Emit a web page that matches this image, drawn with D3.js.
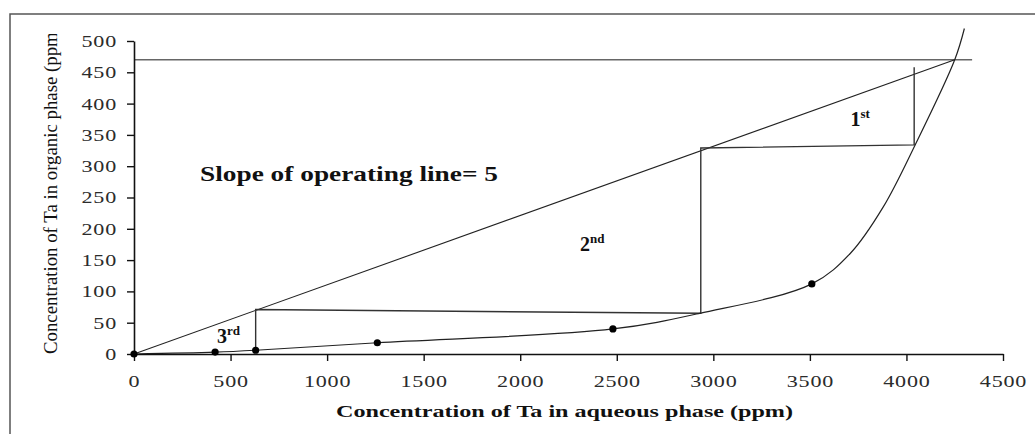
<!DOCTYPE html>
<html>
<head>
<meta charset="utf-8">
<script src="https://cdn.jsdelivr.net/npm/d3@7"></script>
<style>
    body { margin: 0; background: #fff; }
    svg { display: block; font-family: "Liberation Serif", "Times New Roman", serif; }
</style>
</head>
<body>
<svg id="svg"></svg>
<script>
// McCabe-Thiele style plot: Ta extraction

// equilibrium curve
const eqX = [0, 420, 630, 1260, 2480, 2930, 3510, 3710, 3880, 4045, 4250, 4300];
const eqY = [0, 3, 6, 18, 40, 65, 112, 161, 235, 334, 470, 520];

// measured points shown with markers
const ptX = [0, 420, 630, 1260, 2480, 3510];
const ptY = [0, 3, 6, 18, 40, 112];

// operating line
const opX = [0, 4250];
const opY = [0, 470];

// horizontal feed line
const feedX = [0, 4340];
const feedY = [470, 470];

// stage steps
const stepX = [4040, 4040, 2935, 2935, 630, 630];
const stepY = [458, 334, 329, 65, 71, 6];

// stage labels
const stages = [
    { x: 3710, y: 365, num: "1", sup: "st" },
    { x: 2310, y: 165, num: "2", sup: "nd" },
    { x: 430, y: 18, num: "3", sup: "rd" },
];

const xTicks = [0, 500, 1000, 1500, 2000, 2500, 3000, 3500, 4000, 4500];
const yTicks = [0, 50, 100, 150, 200, 250, 300, 350, 400, 450, 500];

const width = 1035;
const height = 434;

const svg = d3.select("#svg").attr("width", width).attr("height", height);

const x = d3.scaleLinear().domain([0, 4500]).range([134, 1003]);
const y = d3.scaleLinear().domain([0, 500]).range([354, 41]);

// outer frame (runs off the right and bottom edges)
svg.append("rect")
    .attr("x", 10)
    .attr("y", 14)
    .attr("width", 1100)
    .attr("height", 500)
    .attr("fill", "#fff")
    .attr("stroke", "#555")
    .attr("stroke-width", 1.5);

const line = d3.line().x((d) => x(d[0])).y((d) => y(d[1]));

// feed line
svg.append("path")
    .attr("d", line(d3.zip(feedX, feedY)))
    .attr("fill", "none")
    .attr("stroke", "#666")
    .attr("stroke-width", 1.5);

// operating line
svg.append("path")
    .attr("d", line(d3.zip(opX, opY)))
    .attr("fill", "none")
    .attr("stroke", "#222")
    .attr("stroke-width", 1.1);

// steps
svg.append("path")
    .attr("d", line(d3.zip(stepX, stepY)))
    .attr("fill", "none")
    .attr("stroke", "#333")
    .attr("stroke-width", 1.4);

// equilibrium curve
const curveLine = d3.line()
    .x((d) => x(d[0]))
    .y((d) => y(d[1]))
    .curve(d3.curveCatmullRom.alpha(0.5));

svg.append("path")
    .attr("d", curveLine(d3.zip(eqX, eqY)))
    .attr("fill", "none")
    .attr("stroke", "#222")
    .attr("stroke-width", 1.2);

// axes
const xAxis = d3.axisBottom(x)
    .tickValues(xTicks)
    .tickFormat(d3.format("d"))
    .tickSize(7)
    .tickSizeOuter(0)
    .tickPadding(14);
const yAxis = d3.axisLeft(y)
    .tickValues(yTicks)
    .tickFormat(d3.format("d"))
    .tickSize(7)
    .tickSizeOuter(0)
    .tickPadding(10);

const gx = svg.append("g")
    .attr("transform", `translate(0,${y(0)})`)
    .call(xAxis);

const gy = svg.append("g")
    .attr("transform", `translate(${x(0)},0)`)
    .call(yAxis);

// the original digits are wide, so stretch them sideways
const stretch = 1.3;

[gx, gy].forEach((g) => {
    g.select(".domain").attr("stroke", "#111").attr("stroke-width", 1.6);
    g.selectAll(".tick line").attr("stroke", "#111").attr("stroke-width", 1.4);
    g.selectAll(".tick text")
        .attr("fill", "#2b2b2b")
        .attr("transform", `scale(${stretch},1)`)
        .style("font-family", "'Liberation Serif', serif")
        .style("font-size", "17px")
        .style("letter-spacing", "0.6px");
});
gy.selectAll(".tick text").attr("x", -17 / stretch);

// markers
svg.append("g")
    .selectAll("circle")
    .data(d3.zip(ptX, ptY))
    .join("circle")
    .attr("cx", (d) => x(d[0]))
    .attr("cy", (d) => y(d[1]))
    .attr("r", 3.6)
    .attr("fill", "#000");

// texts
svg.append("text")
    .attr("x", 200)
    .attr("y", 181)
    .attr("textLength", 298)
    .attr("lengthAdjust", "spacingAndGlyphs")
    .style("font-size", "22px")
    .style("font-weight", "bold")
    .attr("fill", "#111")
    .text("Slope of operating line= 5");

const stageText = svg.append("g")
    .selectAll("text")
    .data(stages)
    .join("text")
    .attr("x", (d) => x(d.x))
    .attr("y", (d) => y(d.y))
    .style("font-size", "20px")
    .style("font-weight", "bold")
    .attr("fill", "#111");
stageText.append("tspan").text((d) => d.num);
stageText.append("tspan")
    .attr("dy", -8)
    .style("font-size", "13px")
    .text((d) => d.sup);

svg.append("text")
    .attr("x", 336)
    .attr("y", 417)
    .attr("textLength", 457)
    .attr("lengthAdjust", "spacingAndGlyphs")
    .style("font-size", "17px")
    .style("font-weight", "bold")
    .attr("fill", "#111")
    .text("Concentration of Ta in aqueous phase (ppm)");

// y title is cut off at the top in the original
svg.append("clipPath")
    .attr("id", "clipY")
    .append("rect")
    .attr("x", 0)
    .attr("y", 34)
    .attr("width", 120)
    .attr("height", 400);

svg.append("g")
    .attr("clip-path", "url(#clipY)")
    .append("text")
    .attr("transform", "translate(57,354) rotate(-90)")
    .attr("textLength", 328)
    .attr("lengthAdjust", "spacingAndGlyphs")
    .style("font-size", "18px")
    .attr("fill", "#111")
    .text("Concentration of Ta in organic phase (ppm)");
</script>
</body>
</html>
